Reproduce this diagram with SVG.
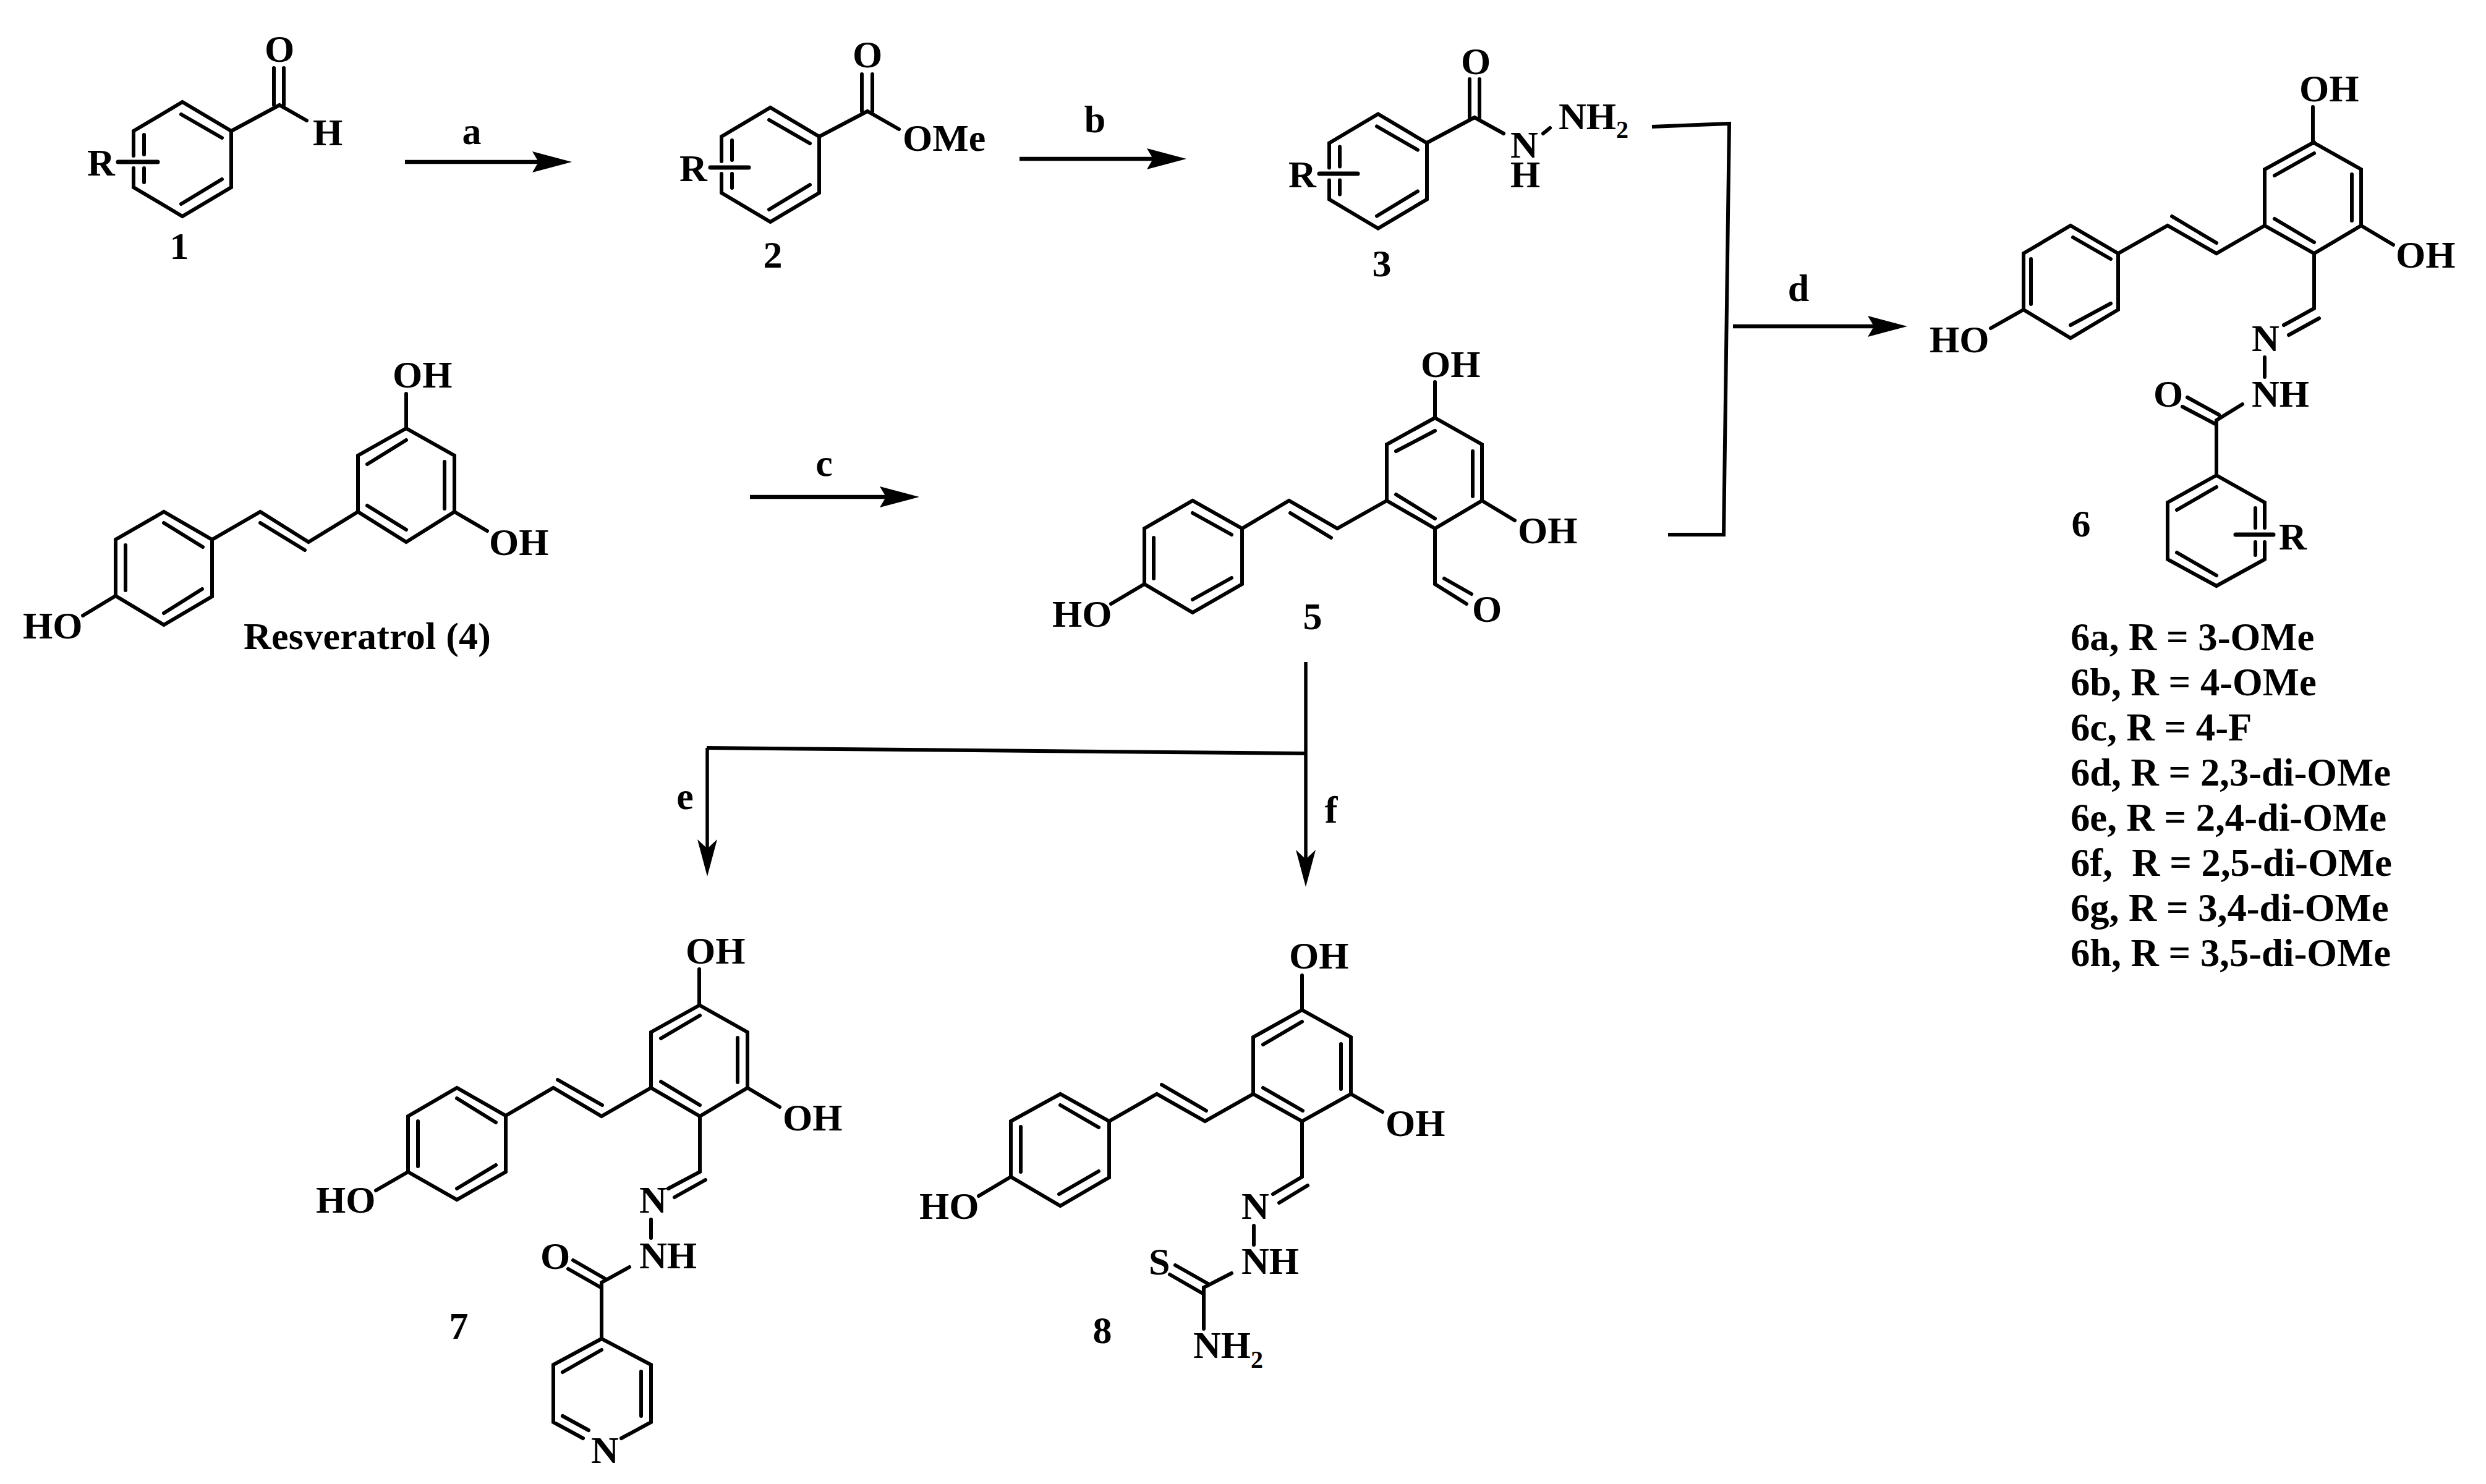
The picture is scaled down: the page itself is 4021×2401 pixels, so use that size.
<svg xmlns="http://www.w3.org/2000/svg" width="4021" height="2401" viewBox="0 0 4021 2401">
<style>
text{font-family:"Liberation Serif","Times New Roman",serif;font-weight:bold;font-size:62px;fill:#000}
.m{text-anchor:middle}
.l{font-size:62.7px}
.s{font-size:40px}
path.b,.b path{fill:none;stroke:#000;stroke-width:6;stroke-linecap:round;stroke-linejoin:miter}
.sub{fill:none;stroke:#000;stroke-width:7;stroke-linecap:round}
.arrow{fill:none;stroke:#000;stroke-width:6.5;marker-end:url(#headH)}
.arrowv{fill:none;stroke:#000;stroke-width:5.5;marker-end:url(#headV)}
.line{fill:none;stroke:#000;stroke-width:6;stroke-linejoin:miter}
</style>
<defs>
<marker id="headH" markerUnits="userSpaceOnUse" markerWidth="70" markerHeight="40" refX="10" refY="17" orient="auto" viewBox="0 0 70 40"><path d="M0 0L64 17L0 34L10 17Z" fill="#000"/></marker>
<marker id="headV" markerUnits="userSpaceOnUse" markerWidth="70" markerHeight="40" refX="15" refY="17" orient="auto" viewBox="0 0 70 40"><path d="M0 1L60 17L0 33L15 17Z" fill="#000"/></marker>
<path id="rring" class="b" d="M216 252V212L295 165L374 212V303L295 350L216 303V272M293 185L359 223M293 330L359 290M233 218V250M233 272V295"/>
</defs>
<rect width="4021" height="2401" fill="#fff"/>
<g id="connectors">
<path class="arrow" d="M655 262H871"/>
<path class="arrow" d="M1649 257H1865"/>
<path class="arrow" d="M1213 804H1433"/>
<path class="arrow" d="M2803 528H3031"/>
<path class="line" d="M2672 205L2797 200L2788 865H2698"/>
<path class="arrowv" d="M2112 1071V1390"/>
<path class="line" d="M2112 1219L1143 1210"/>
<path class="arrowv" d="M1144 1210V1373"/>
<text class="m" x="763" y="233">a</text>
<text class="m" x="1771" y="214">b</text>
<text class="m" x="1333" y="770">c</text>
<text class="m" x="2909" y="487">d</text>
<text class="m" x="1108" y="1309">e</text>
<text class="m" x="2153" y="1331">f</text>
</g>
<g id="node-1">
<use href="#rring"/>
<path class="b" d="M374 212L452 170L496 195M443 170V110M459 170V110"/>
<path class="sub" d="M191 262H255"/>
<text x="141" y="284">R</text>
<text class="m" x="452" y="100">O</text>
<text x="506" y="235">H</text>
<text class="m" x="290" y="419">1</text>
</g>
<g id="node-2">
<use href="#rring" x="951" y="9"/>
<path class="b" d="M1325 221L1403 180L1454 209M1394 180V120M1411 180V120"/>
<path class="sub" d="M1149 271H1211"/>
<text x="1099" y="293">R</text>
<text class="m" x="1403" y="109">O</text>
<text x="1460" y="244">OMe</text>
<text class="m" x="1250" y="433">2</text>
</g>
<g id="node-3">
<use href="#rring" x="1934" y="19.5"/>
<path class="b" d="M2308 231L2385 190L2432 216M2377 190V128M2393 190V128M2496 216L2507 207"/>
<path class="sub" d="M2134 281H2196"/>
<text x="2084" y="303">R</text>
<text class="m" x="2387" y="120">O</text>
<text x="2443" y="255">N</text>
<text x="2443" y="303">H</text>
<text x="2521" y="209">NH<tspan class="s" dy="14">2</tspan></text>
<text class="m" x="2235" y="447">3</text>
</g>
<g id="node-4">
<path class="b" d="M657 637V693L735 737V828L657 877L579 828V737L657 693M735 828L788 859M579 828L499 877L421 828L343 873L265 828L187 873V964L265 1011L343 965V873M187 964L134 996M594 751L657 712M719 747V823M594 818L657 857M421 846L493 890M265 846L328 885M203 882V955M265 992L327 953"/>
<text x="635" y="627">OH</text>
<text x="791" y="898">OH</text>
<text x="37" y="1033">HO</text>
<text x="394" y="1050" textLength="400">Resveratrol (4)</text>
</g>
<g id="node-5">
<path class="b" d="M2321 618V676L2397 719V810L2321 855L2243 810V719L2321 676M2397 810L2450 842M2321 855V945L2372 977M2336 936L2380 961M2243 810L2163 855L2085 810L2009 855L1929 810L1851 855V945L1929 991L2009 945V855M1851 945L1797 977M2258 730L2321 697M2382 730V803M2258 800L2321 839M2087 830L2153 870M1929 830L1992 865M1866 870V936M1929 970L1992 935"/>
<text x="2298" y="610">OH</text>
<text x="2455" y="879">OH</text>
<text x="1702" y="1014">HO</text>
<text x="2381" y="1006">O</text>
<text class="m" x="2123" y="1018">5</text>
</g>
<g id="node-6">
<path class="b" d="M3741 173V230L3819 274V365L3743 410L3663 365V274L3743 230M3819 365L3871 396M3743 410V499L3694 526M3751 515L3702 542M3663 578V610M3627 654L3585 680V769L3663 813V854M3663 877V905L3585 948L3506 905V813L3585 769M3530 658L3585 687M3538 643L3589 671M3585 788L3521 825M3585 931L3521 894M3648 822V854M3648 877V898M3663 365L3585 410L3506 365L3426 410L3349 365L3273 410V501L3349 547L3426 501V410M3273 501L3220 531M3513 350L3585 393M3353 384L3414 419M3285 419V492M3349 526L3414 491M3679 284L3743 248M3804 282V357M3679 354L3743 392"/>
<path class="sub" d="M3616 865H3677"/>
<text x="3719" y="164">OH</text>
<text x="3875" y="433">OH</text>
<text x="3121" y="570">HO</text>
<text x="3642" y="568">N</text>
<text x="3642" y="658">NH</text>
<text x="3483" y="658">O</text>
<text x="3686" y="889">R</text>
<text class="m" x="3366" y="868">6</text>
<text class="l" x="3349" y="1052">6a, R = 3-OMe</text>
<text class="l" x="3349" y="1125">6b, R = 4-OMe</text>
<text class="l" x="3349" y="1198">6c, R = 4-F</text>
<text class="l" x="3349" y="1271">6d, R = 2,3-di-OMe</text>
<text class="l" x="3349" y="1344">6e, R = 2,4-di-OMe</text>
<text class="l" x="3349" y="1417" xml:space="preserve">6f,  R = 2,5-di-OMe</text>
<text class="l" x="3349" y="1490">6g, R = 3,4-di-OMe</text>
<text class="l" x="3349" y="1563">6h, R = 3,5-di-OMe</text>
</g>
<g id="node-7">
<path class="b" d="M1131 1568V1626L1209 1670V1760L1132 1806L1053 1760V1670L1132 1626M1209 1760L1261 1791M1132 1806V1896L1081 1923M1141 1909L1091 1937M1053 1973V2003M1018 2050L973 2075V2166L1053 2208V2301L1005 2327M943 2327L895 2301V2208L973 2166M919 2053L970 2082M927 2039L979 2069M973 2184L910 2220M1037 2219V2291M910 2291L952 2314M1053 1760L973 1806L895 1760L818 1805L739 1760L660 1806V1896L739 1941L818 1896V1805M660 1896L608 1926M902 1747L974 1788M739 1777L802 1816M676 1814V1887M739 1923L802 1885M1069 1680L1132 1643M1193 1679V1751M1069 1750L1132 1788"/>
<text x="1109" y="1559">OH</text>
<text x="1266" y="1829">OH</text>
<text x="511" y="1962">HO</text>
<text x="1034" y="1962">N</text>
<text x="1034" y="2052">NH</text>
<text x="874" y="2053">O</text>
<text x="956" y="2367">N</text>
<text class="m" x="742" y="2166">7</text>
</g>
<g id="node-8">
<path class="b" d="M2106 1578V1634L2185 1678V1770L2106 1814L2027 1770V1678L2106 1634M2185 1770L2236 1799M2106 1814V1904L2059 1932M2115 1918L2069 1946M2028 1983V2014M1992 2060L1947 2083V2150M1892 2062L1944 2092M1901 2047L1954 2077M2027 1770L1949 1814L1871 1770L1794 1814L1715 1770L1635 1814V1904L1715 1951L1794 1905V1814M1635 1904L1583 1935M1879 1755L1951 1797M1715 1788L1777 1824M1651 1823V1896M1713 1932L1777 1895M2043 1690L2106 1653M2169 1689V1762M2043 1760L2107 1797"/>
<text x="2085" y="1567">OH</text>
<text x="2241" y="1838">OH</text>
<text x="1487" y="1972">HO</text>
<text x="2008" y="1972">N</text>
<text x="2008" y="2061">NH</text>
<text x="1858" y="2062">S</text>
<text x="1930" y="2197">NH<tspan class="s" dy="16">2</tspan></text>
<text class="m" x="1783" y="2173">8</text>
</g>
</svg>
